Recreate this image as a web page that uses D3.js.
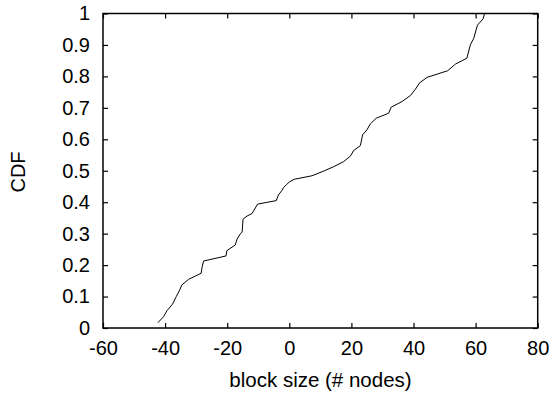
<!DOCTYPE html>
<html>
<head>
<meta charset="utf-8">
<script src="https://cdn.jsdelivr.net/npm/d3@7"></script>
<style>
  body { margin: 0; background: #fff; }
  text { font-family: 'Liberation Sans', Arial, sans-serif; fill: #000; }
</style>
</head>
<body>
<div id="chart"></div>
<script>
// block size values (x) and cumulative fraction (y)
const blockSize = [
  -42.3, -40.5, -39.4, -37.6, -36.4, -35.3, -34.6, -32.4, -28.4, -28.1,
  -27.6, -20.4, -20.1, -17.4, -16.8, -15.8, -15.2, -14.9, -13.6, -12.0,
  -10.2, -4.2, -3.5, -2.4, -1.8, -1.0, 0.1, 1.6, 7.3, 11.1,
  14.3, 17.5, 19.7, 20.7, 22.9, 23.6, 25.0, 26.1, 28.0, 32.0,
  32.8, 36.3, 39.0, 40.6, 42.0, 44.4, 51.0, 53.5, 57.2, 58.3,
  59.4, 60.6, 62.4, 62.9
];
const cdf = [
  0.017, 0.036, 0.055, 0.076, 0.100, 0.121, 0.137, 0.155, 0.174, 0.193,
  0.213, 0.229, 0.246, 0.264, 0.283, 0.299, 0.305, 0.346, 0.356, 0.364,
  0.394, 0.405, 0.423, 0.437, 0.447, 0.455, 0.465, 0.473, 0.484, 0.499,
  0.513, 0.529, 0.547, 0.564, 0.580, 0.614, 0.630, 0.649, 0.667, 0.683,
  0.702, 0.720, 0.739, 0.759, 0.780, 0.797, 0.818, 0.839, 0.858, 0.900,
  0.921, 0.963, 0.983, 1.0
];
const xTicks = [-60, -40, -20, 0, 20, 40, 60, 80];
const yTicks = [0, 0.1, 0.2, 0.3, 0.4, 0.5, 0.6, 0.7, 0.8, 0.9, 1];

const W = 553, H = 395;
const margin = { left: 103, top: 13.5, right: 15.3, bottom: 67 };
const iw = W - margin.left - margin.right;
const ih = H - margin.top - margin.bottom;

const svg = d3.select('#chart').append('svg')
  .attr('width', W)
  .attr('height', H);

const g = svg.append('g')
  .attr('transform', `translate(${margin.left},${margin.top})`);

const x = d3.scaleLinear().domain([-60, 80]).range([0, iw]);
const y = d3.scaleLinear().domain([0, 1]).range([ih, 0]);

const tickLen = 5;

// bottom axis with labels (plain hyphen for negatives, like gnuplot)
g.append('g')
  .attr('transform', `translate(0,${ih})`)
  .call(d3.axisBottom(x).tickValues(xTicks).tickSize(-tickLen).tickPadding(13)
    .tickFormat(d => String(d)))
  .call(a => a.select('.domain').remove())
  .call(a => a.selectAll('text').attr('font-size', 20));

// top axis (ticks only)
g.append('g')
  .call(d3.axisTop(x).tickValues(xTicks).tickSize(-tickLen).tickFormat(''))
  .call(a => a.select('.domain').remove());

// left axis with labels
g.append('g')
  .call(d3.axisLeft(y).tickValues(yTicks).tickSize(-tickLen).tickPadding(13)
    .tickFormat(d => d === 0 || d === 1 ? String(d) : d3.format('.1f')(d)))
  .call(a => a.select('.domain').remove())
  .call(a => a.selectAll('text').attr('font-size', 20));

// right axis (ticks only)
g.append('g')
  .attr('transform', `translate(${iw},0)`)
  .call(d3.axisRight(y).tickValues(yTicks).tickSize(-tickLen).tickFormat(''))
  .call(a => a.select('.domain').remove());

g.selectAll('.tick line').attr('stroke', '#000').attr('stroke-width', 1.2);

// frame
g.append('rect')
  .attr('width', iw)
  .attr('height', ih)
  .attr('fill', 'none')
  .attr('stroke', '#000')
  .attr('stroke-width', 1.5);

// cdf curve
const pts = blockSize.map((v, i) => [v, cdf[i]]);
g.append('path')
  .datum(pts)
  .attr('fill', 'none')
  .attr('stroke', '#000')
  .attr('stroke-width', 1)
  .attr('d', d3.line().x(d => x(d[0])).y(d => y(d[1])));

// axis titles
svg.append('text')
  .attr('x', 320.5)
  .attr('y', 386.5)
  .attr('text-anchor', 'middle')
  .attr('font-size', 20.5)
  .text('block size (# nodes)');

svg.append('text')
  .attr('transform', 'translate(25,172) rotate(-90)')
  .attr('text-anchor', 'middle')
  .attr('font-size', 20)
  .text('CDF');
</script>
</body>
</html>
